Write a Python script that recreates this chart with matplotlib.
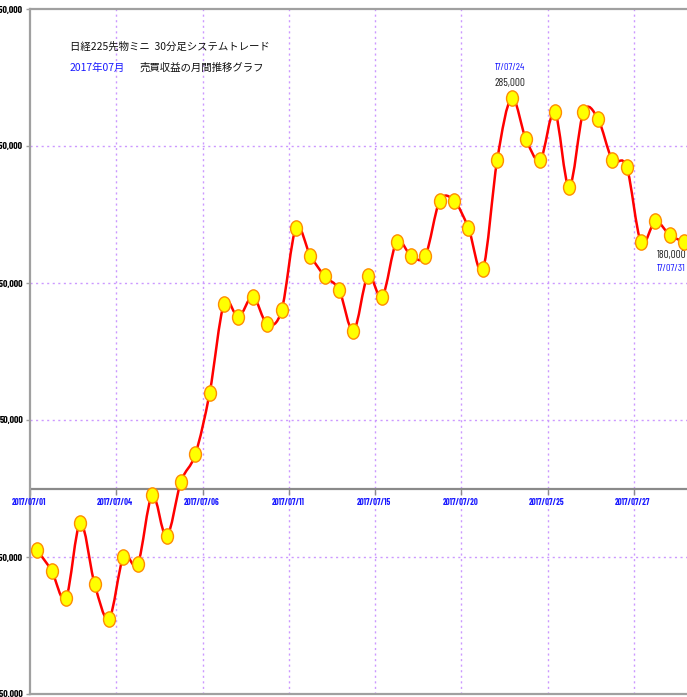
import numpy as np
import matplotlib.pyplot as plt
from matplotlib.path import Path
from matplotlib.patches import PathPatch
from matplotlib.transforms import Affine2D

# 売買収益 (円) per trade, July 2017
profit = [-45000, -60000, -80000, -25000, -70000, -95000, -50000, -55000, -5000, -35000,
          5000, 25000, 70000, 135000, 125000, 140000, 120000, 130000, 190000, 170000,
          155000, 145000, 115000, 155000, 140000, 180000, 170000, 170000, 210000, 210000,
          190000, 160000, 240000, 285000, 255000, 240000, 275000, 220000, 275000, 270000,
          240000, 235000, 180000, 195000, 185000, 180000]

date_labels = ["2017/07/01", "2017/07/04", "2017/07/06", "2017/07/11",
               "2017/07/15", "2017/07/20", "2017/07/25", "2017/07/27"]
ytick_vals = [-150000, -50000, 50000, 150000, 250000, 350000]

GRID_C = "#cc99ff"
SPINE_C = "#a0a0a0"
BLUE = "#1a1aff"
TICKFONT = ["Barlow Condensed", "DejaVu Sans"]
JP = ["Noto Sans CJK JP", "DejaVu Sans"]


def smooth_path(xs, ys):
    # catmull-rom -> cubic bezier, drawn by matplotlib as curve segments
    pts = np.column_stack([xs, ys]).astype(float)
    verts = [pts[0]]
    codes = [Path.MOVETO]
    n = len(pts)
    for i in range(n - 1):
        p0 = pts[max(i - 1, 0)]
        p1 = pts[i]
        p2 = pts[i + 1]
        p3 = pts[min(i + 2, n - 1)]
        c1 = p1 + (p2 - p0) / 6.0
        c2 = p2 - (p3 - p1) / 6.0
        verts += [c1, c2, p2]
        codes += [Path.CURVE4] * 3
    return Path(verts, codes)


fig = plt.figure(figsize=(6.87, 6.97), dpi=100)
ax = fig.add_axes([30 / 687, 3 / 697, 657 / 687, 685 / 697])

x = np.arange(len(profit))
ax.set_xlim(-0.5, 45.2)
ax.set_ylim(-150000, 350000)

grid_x = [-0.5 + 6 * k for k in range(len(date_labels))]

# grid
for gx in grid_x[1:]:
    ax.axvline(gx, color=GRID_C, lw=1, ls=(0, (1.5, 2.5)), zorder=1)
for gy in ytick_vals[1:-1]:
    ax.axhline(gy, color=GRID_C, lw=1, ls=(0, (1.5, 2.5)), zorder=1)

# zero line with date labels
ax.axhline(0, color="#8a8a8a", lw=1.6, zorder=2)
ax.plot(grid_x, [0] * len(grid_x), ls="none", marker=3, ms=4, color="#8a8a8a", zorder=2)
for gx, lab in zip(grid_x, date_labels):
    ax.annotate(lab, xy=(gx, 0), xytext=(-1, -14), textcoords="offset pixels",
                ha="center", va="center", fontsize=6.2, fontweight="bold",
                color=BLUE, family=TICKFONT, zorder=3)

# curve
patch = PathPatch(smooth_path(x, profit), facecolor="none", edgecolor="#ff0000",
                  lw=1.8, transform=ax.transData, zorder=4)
ax.add_patch(patch)
ellipse = Path.unit_circle().transformed(Affine2D().scale(0.78, 1.0))
ax.plot(x, profit, ls="none", marker=ellipse, ms=11, mfc="#ffff00", mec="#ff8c00",
        mew=1.0, zorder=5)

# annotations: peak and last
ipk = int(np.argmax(profit))
ax.annotate("17/07/24", xy=(ipk, profit[ipk]), xytext=(-2, 31), textcoords="offset pixels",
            ha="center", va="center", fontsize=7.5, color=BLUE, family=TICKFONT)
ax.annotate(f"{profit[ipk]:,}", xy=(ipk, profit[ipk]), xytext=(-2, 15), textcoords="offset pixels",
            ha="center", va="center", fontsize=8, color="#222222", family=TICKFONT)
il = len(profit) - 1
ax.annotate(f"{profit[il]:,}", xy=(il, profit[il]), xytext=(-27, -13), textcoords="offset pixels",
            ha="left", va="center", fontsize=8, color="#222222", family=TICKFONT)
ax.annotate("17/07/31", xy=(il, profit[il]), xytext=(-27, -27), textcoords="offset pixels",
            ha="left", va="center", fontsize=7.5, color=BLUE, family=TICKFONT)

# title
fig.text(70 / 687, 1 - 47 / 697, "日経225先物ミニ  30分足システムトレード", fontsize=7.5,
         family=JP, color="#111111", va="center", ha="left")
fig.text(70 / 687, 1 - 68 / 697, "2017年07月", fontsize=7.5, family=JP,
         color=BLUE, va="center", ha="left")
fig.text(140 / 687, 1 - 68 / 697, "売買収益の月間推移グラフ", fontsize=7.5, family=JP,
         color="#111111", va="center", ha="left")

# axes styling
ax.set_xticks([])
ax.set_yticks(ytick_vals)
ax.set_yticklabels([f"{v:,}" for v in ytick_vals], fontsize=7, fontweight="bold",
                   family=TICKFONT)
ax.tick_params(axis="y", length=3, width=1, color=SPINE_C, pad=2)
for s in ["left", "top", "bottom"]:
    ax.spines[s].set_color(SPINE_C)
    ax.spines[s].set_linewidth(1.6)
ax.spines["right"].set_visible(False)

fig.savefig("out.png", dpi=100)
